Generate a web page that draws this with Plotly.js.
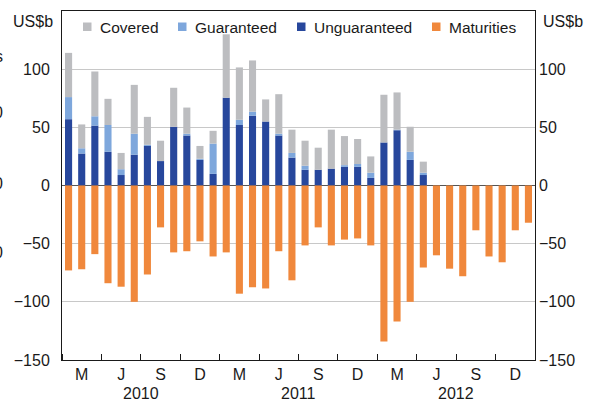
<!DOCTYPE html>
<html>
<head>
<meta charset="utf-8">
<script src="https://cdn.plot.ly/plotly-3.0.1.min.js"></script>
<style>
  html, body { margin: 0; padding: 0; background: #fff; }
  #chart { width: 597px; height: 402px; }
</style>
</head>
<body>
<div id="chart"></div>
<script>
// Months: Jan 2010 .. Dec 2012
const months = [
  "2010-01","2010-02","2010-03","2010-04","2010-05","2010-06","2010-07","2010-08","2010-09","2010-10","2010-11","2010-12",
  "2011-01","2011-02","2011-03","2011-04","2011-05","2011-06","2011-07","2011-08","2011-09","2011-10","2011-11","2011-12",
  "2012-01","2012-02","2012-03","2012-04","2012-05","2012-06","2012-07","2012-08","2012-09","2012-10","2012-11","2012-12"
];
// Issuance (US$b), Jan 2010 .. Apr 2012
const unguaranteed = [57, 27.5, 51.5, 29, 9, 26.5, 34, 21, 50.5, 43, 22, 10,
                      75.5, 52, 60, 55, 43, 24, 13.5, 13.5, 14.5, 16, 16, 6.5,
                      37, 47.5, 22, 9];
const guaranteed   = [19, 4.5, 8, 23, 5, 18, 1, 0, 0, 1.5, 1, 26,
                      0, 4.5, 3.5, 0, 1.5, 4, 3.5, 0, 0, 1.5, 2.5, 4.5,
                      0, 0.5, 7, 2];
const covered      = [38, 20.5, 38.5, 22.5, 14, 42, 24, 17.5, 33.5, 22.5, 11, 11,
                      54.5, 45, 44, 19, 34, 20, 21.5, 19, 33.5, 25, 21.5, 14,
                      41, 32, 21.5, 9.5];
// Maturities (US$b), Jan 2010 .. Dec 2012
const maturities   = [-73, -72, -59, -84, -87, -100, -76.5, -36, -57.5, -56.5, -48, -61,
                      -57.5, -93, -87.5, -88.5, -56.5, -81.5, -51.5, -36, -51.5, -46.5, -45.5, -51.5,
                      -134, -117, -100, -70.5, -60, -71.5, -78, -38.5, -61, -66, -38.5, -32];
const quarterLabels = ["M","J","S","D","M","J","S","D","M","J","S","D"];
const years = ["2010","2011","2012"];
const yTicks = [-150, -100, -50, 0, 50, 100];
const legendNames = ["Covered", "Guaranteed", "Unguaranteed", "Maturities"];

const COLORS = {Covered: "#bcbdc0", Guaranteed: "#7ea7dc", Unguaranteed: "#27479c", Maturities: "#f0883c"};
const FONT = "Liberation Sans, Arial, sans-serif";
const TXT = "#1a1a1a";
const W = 0.54;

const idx = months.map((m, i) => i);
const xIss = idx.slice(0, unguaranteed.length);

const traces = [
  {type: "bar", name: "Unguaranteed", x: xIss, y: unguaranteed, width: W, marker: {color: COLORS.Unguaranteed, line: {width: 0}}},
  {type: "bar", name: "Guaranteed", x: xIss, y: guaranteed, width: W, marker: {color: COLORS.Guaranteed, line: {width: 0}}},
  {type: "bar", name: "Covered", x: xIss, y: covered, width: W, marker: {color: COLORS.Covered, line: {width: 0}}},
  {type: "bar", name: "Maturities", x: idx, y: maturities, width: W, marker: {color: COLORS.Maturities, line: {width: 0}}},
  {type: "scatter", x: [null], y: [null], yaxis: "y2", showlegend: false, hoverinfo: "skip"}
];

// plot-area geometry in pixels (for legend placement)
const PL = 62, PR = 535, PT = 11, PB = 360;
const px2paperX = p => (p - PL) / (PR - PL);
const px2paperY = p => (PB - p) / (PB - PT);

const annotations = [];
const shapes = [];
years.forEach((yr, i) => {
  annotations.push({text: yr, x: 12 * i + 5.5, xref: "x", y: px2paperY(393), yref: "paper",
    yanchor: "middle", xanchor: "center", showarrow: false, font: {family: FONT, size: 16, color: TXT}});
});
annotations.push({text: "US$b", x: px2paperX(55), xref: "paper", y: px2paperY(21), yref: "paper",
  xanchor: "right", yanchor: "middle", showarrow: false, font: {family: FONT, size: 16, color: TXT}});
annotations.push({text: "US$b", x: px2paperX(541), xref: "paper", y: px2paperY(21), yref: "paper",
  xanchor: "left", yanchor: "middle", showarrow: false, font: {family: FONT, size: 16, color: TXT}});

// legend (single row, compact keys)
const legendLeft = [83, 178, 297, 432];
legendNames.forEach((nm, i) => {
  const x0 = legendLeft[i];
  shapes.push({type: "rect", xref: "paper", yref: "paper",
    x0: px2paperX(x0), x1: px2paperX(x0 + 8.5), y0: px2paperY(31), y1: px2paperY(22.5),
    fillcolor: COLORS[nm], line: {width: 0}});
  annotations.push({text: nm, x: px2paperX(x0 + 15), xref: "paper", y: px2paperY(27), yref: "paper",
    xanchor: "left", yanchor: "middle", showarrow: false, font: {family: FONT, size: 15.5, color: TXT}});
});

// cut-off fragments from a neighbouring panel at the far left edge
const fragments = [["s", 57], ["0", 113], ["0", 183], ["0", 253]];
fragments.forEach(f => {
  annotations.push({text: f[0], x: px2paperX(5), xref: "paper", y: px2paperY(f[1]), yref: "paper",
    xanchor: "right", yanchor: "middle", showarrow: false, font: {family: FONT, size: 16, color: TXT}});
});

const layout = {
  width: 597, height: 402,
  margin: {l: PL, r: 597 - PR, t: PT, b: 402 - PB},
  paper_bgcolor: "#ffffff", plot_bgcolor: "#ffffff",
  barmode: "relative",
  showlegend: false,
  font: {family: FONT, size: 16, color: TXT},
  xaxis: {
    range: [-0.5, 35.5], showgrid: false, zeroline: false,
    tickmode: "array", tickvals: quarterLabels.map((q, i) => 3 * i + 1), ticktext: quarterLabels,
    ticks: "", ticklen: 0,
    tickfont: {family: FONT, size: 16, color: TXT},
    showline: true, linecolor: TXT, linewidth: 1, mirror: true,
    minor: {tickmode: "linear", tick0: -0.5, dtick: 3, ticks: "inside", ticklen: 6, tickcolor: TXT, tickwidth: 1, showgrid: false},
    fixedrange: true
  },
  yaxis: {
    range: [-150, 150], tickmode: "array", tickvals: yTicks,
    showgrid: true, gridcolor: "#c8c8c8", gridwidth: 1,
    zeroline: true, zerolinecolor: "#555555", zerolinewidth: 1,
    ticks: "", tickfont: {family: FONT, size: 16, color: TXT},
    showline: true, linecolor: TXT, linewidth: 1, mirror: true,
    ticklabelstandoff: 8, fixedrange: true
  },
  yaxis2: {
    range: [-150, 150], overlaying: "y", side: "right", tickmode: "array", tickvals: yTicks,
    showgrid: false, zeroline: false, ticks: "", showline: false,
    tickfont: {family: FONT, size: 16, color: TXT},
    ticklabelstandoff: 3, fixedrange: true
  },
  shapes: shapes,
  annotations: annotations
};

Plotly.newPlot("chart", traces, layout, {displayModeBar: false, staticPlot: true});
</script>
</body>
</html>
